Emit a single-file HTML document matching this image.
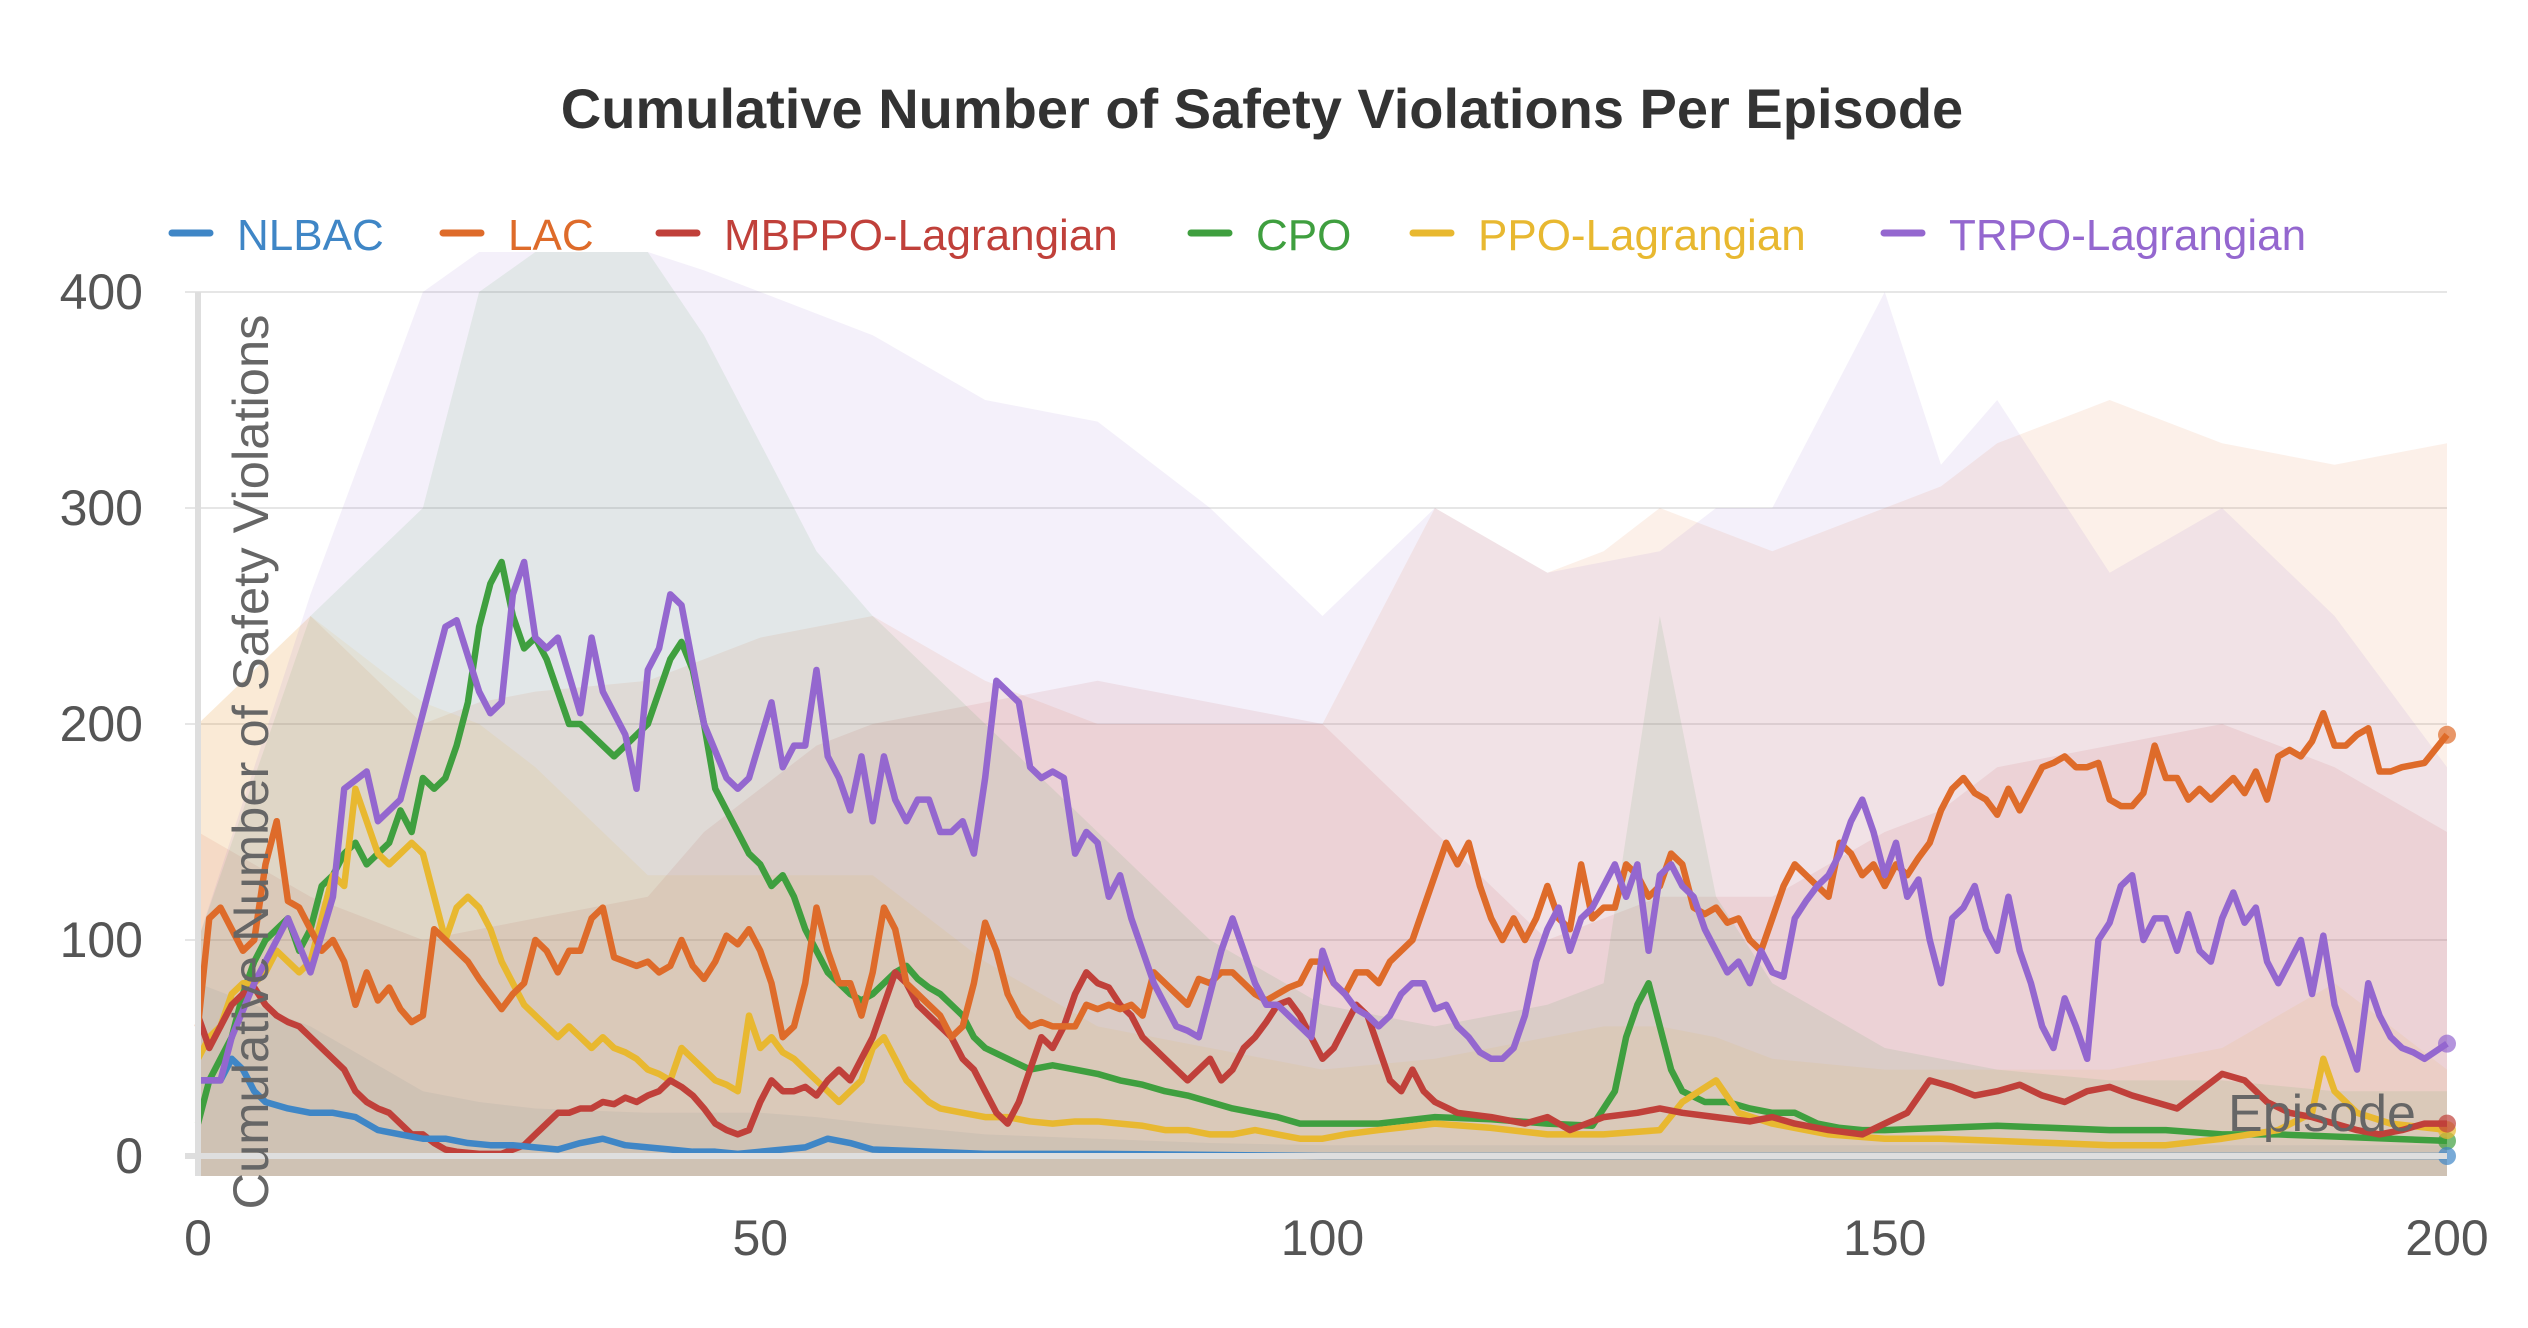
<!DOCTYPE html>
<html><head><meta charset="utf-8">
<style>
html,body{margin:0;padding:0;background:#fff;}
svg{display:block;font-family:"Liberation Sans","DejaVu Sans",sans-serif;}
</style></head>
<body>
<svg id="chart" width="2528" height="1328" viewBox="0 0 2528 1328">
<text x="1262" y="128" text-anchor="middle" font-size="56" font-weight="bold" fill="#333">Cumulative Number of Safety Violations Per Episode</text>
<g id="grid"></g>
<g id="bands"></g>
<g id="lines"></g>
<g id="axes"></g>
<g id="legend"></g>
<text transform="translate(268,762) rotate(-90)" text-anchor="middle" font-size="50" fill="#666" textLength="895" lengthAdjust="spacingAndGlyphs">Cumulative Number of Safety Violations</text>
<text x="2322" y="1131" text-anchor="middle" font-size="52" fill="#666">Episode</text>
</svg>
<script>
const seriesNames = ["NLBAC","LAC","MBPPO-Lagrangian","CPO","PPO-Lagrangian","TRPO-Lagrangian"];
const seriesColors = ["#3f86c6","#de6b2a","#c0403a","#3f9f3f","#e8b830","#9467cf"];
const yTicks = [0,100,200,300,400];
const xTicks = [0,50,100,150,200];

const nlbacX = [0,2,3,4,5,6,8,10,12,14,16,18,20,22,24,26,28,30,32,34,36,38,40,42,44,46,48,50,54,56,58,60,65,70,80,100,150,200];
const nlbacY = [35,35,45,40,30,25,22,20,20,18,12,10,8,8,6,5,5,4,3,6,8,5,4,3,2,2,1,2,4,8,6,3,2,1,1,0,0,0];

const lacX = [0,1,2,3,4,5,6,7,8,9,10,11,12,13,14,15,16,17,18,19,20,21,22,24,25,26,27,28,29,30,31,32,33,34,35,36,37,38,39,40,41,42,43,44,45,46,47,48,49,50,51,52,53,54,55,56,57,58,59,60,61,62,63,64,65,66,67,68,69,70,71,72,73,74,75,76,77,78,79,80,81,82,83,84,85,86,87,88,89,90,91,92,93,94,95,96,97,98,99,100,101,102,103,104,105,106,107,108,109,110,111,112,113,114,115,116,117,118,119,120,121,122,123,124,125,126,127,128,129,130,131,132,133,134,135,136,137,138,139,140,141,142,143,144,145,146,147,148,149,150,151,152,153,154,155,156,157,158,159,160,161,162,163,164,165,166,167,168,169,170,171,172,173,174,175,176,177,178,179,180,181,182,183,184,185,186,187,188,189,190,191,192,193,194,195,196,198,200];
const lacY = [60,110,115,105,95,100,135,155,118,115,105,95,100,90,70,85,72,78,68,62,65,105,100,90,82,75,68,75,80,100,95,85,95,95,110,115,92,90,88,90,85,88,100,88,82,90,102,98,105,95,80,55,60,80,115,95,80,80,65,85,115,105,80,75,70,65,55,60,80,108,95,75,65,60,62,60,60,60,70,68,70,68,70,65,85,80,75,70,82,80,85,85,80,75,72,75,78,80,90,90,80,75,85,85,80,90,95,100,115,130,145,135,145,125,110,100,110,100,110,125,110,105,135,110,115,115,135,130,120,125,140,135,115,112,115,108,110,100,95,110,125,135,130,125,120,145,140,130,135,125,135,130,138,145,160,170,175,168,165,158,170,160,170,180,182,185,180,180,182,165,162,162,168,190,175,175,165,170,165,170,175,168,178,165,185,188,185,192,205,190,190,195,198,178,178,180,182,195];

const mbX = [0,1,2,3,4,5,6,7,8,9,10,11,12,13,14,15,16,17,18,19,20,21,22,23,25,27,29,30,31,32,33,34,35,36,37,38,39,40,41,42,43,44,45,46,47,48,49,50,51,52,53,54,55,56,57,58,59,60,61,62,63,64,65,66,67,68,69,70,71,72,73,74,75,76,77,78,79,80,81,82,83,84,85,86,87,88,89,90,91,92,93,94,95,96,97,98,99,100,101,102,103,104,105,106,107,108,109,110,112,115,118,120,122,125,128,130,132,135,138,140,142,145,148,150,152,154,156,158,160,162,164,166,168,170,172,174,176,178,180,182,184,186,188,190,192,194,196,198,200];
const mbY = [65,50,60,70,75,78,70,65,62,60,55,50,45,40,30,25,22,20,15,10,10,6,3,2,1,1,5,10,15,20,20,22,22,25,24,27,25,28,30,35,32,28,22,15,12,10,12,25,35,30,30,32,28,35,40,35,45,55,70,85,80,70,65,60,55,45,40,30,20,15,25,40,55,50,60,75,85,80,78,70,65,55,50,45,40,35,40,45,35,40,50,55,62,70,72,65,55,45,50,60,70,65,50,35,30,40,30,25,20,18,15,18,12,18,20,22,20,18,16,18,15,12,10,15,20,35,32,28,30,33,28,25,30,32,28,25,22,30,38,35,25,20,18,15,12,10,12,15,15];

const cpoX = [0,1,2,3,4,5,6,7,8,9,10,11,12,13,14,15,16,17,18,19,20,21,22,23,24,25,26,27,28,29,30,31,32,33,34,35,36,37,38,39,40,41,42,43,44,45,46,47,48,49,50,51,52,53,54,55,56,57,58,59,60,61,62,63,64,65,66,67,68,69,70,72,74,76,78,80,82,84,86,88,90,92,94,96,98,100,105,110,115,120,124,126,127,128,129,130,131,132,134,136,138,140,142,144,146,148,150,155,160,165,170,175,180,185,190,195,200];
const cpoY = [15,35,45,55,75,90,100,105,110,95,105,125,130,140,145,135,140,145,160,150,175,170,175,190,210,245,265,275,250,235,240,230,215,200,200,195,190,185,190,195,200,215,230,238,225,200,170,160,150,140,135,125,130,120,105,95,85,80,75,72,75,80,85,88,82,78,75,70,65,55,50,45,40,42,40,38,35,33,30,28,25,22,20,18,15,15,15,18,17,15,14,30,55,70,80,60,40,30,25,25,22,20,20,15,13,12,12,13,14,13,12,12,10,10,9,8,7];

const ppoX = [0,1,2,3,4,5,6,7,8,9,10,11,12,13,14,15,16,17,18,19,20,21,22,23,24,25,26,27,28,29,30,31,32,33,34,35,36,37,38,39,40,41,42,43,44,45,46,47,48,49,50,51,52,53,54,55,56,57,58,59,60,61,62,63,64,65,66,68,70,72,74,76,78,80,82,84,86,88,90,92,94,96,98,100,102,105,110,115,120,125,130,132,135,137,140,145,150,155,160,165,170,175,180,185,188,189,190,192,195,200];
const ppoY = [45,55,60,75,80,80,85,95,90,85,90,110,130,125,170,155,140,135,140,145,140,120,100,115,120,115,105,90,80,70,65,60,55,60,55,50,55,50,48,45,40,38,35,50,45,40,35,33,30,65,50,55,48,45,40,35,30,25,30,35,50,55,45,35,30,25,22,20,18,18,16,15,16,16,15,14,12,12,10,10,12,10,8,8,10,12,15,13,10,10,12,25,35,20,15,10,8,8,7,6,5,5,8,12,20,45,30,20,15,12];

const trpoX = [0,2,3,5,7,8,10,12,13,15,16,18,20,22,23,25,26,27,28,29,30,31,32,34,35,36,38,39,40,41,42,43,45,47,48,49,51,52,53,54,55,56,57,58,59,60,61,62,63,64,65,66,67,68,69,70,71,72,73,74,75,76,77,78,79,80,81,82,83,84,85,86,87,88,89,90,91,92,93,94,95,96,97,98,99,100,101,102,103,104,105,106,107,108,109,110,111,112,113,114,115,116,117,118,119,120,121,122,123,124,125,126,127,128,129,130,131,132,133,134,135,136,137,138,139,140,141,142,143,144,145,146,147,148,149,150,151,152,153,154,155,156,157,158,159,160,161,162,163,164,165,166,167,168,169,170,171,172,173,174,175,176,177,178,179,180,181,182,183,184,185,186,187,188,189,190,191,192,193,194,195,196,197,198,200];
const trpoY = [35,35,55,80,100,110,85,120,170,178,155,165,205,245,248,215,205,210,260,275,240,235,240,205,240,215,195,170,225,235,260,255,200,175,170,175,210,180,190,190,225,185,175,160,185,155,185,165,155,165,165,150,150,155,140,175,220,215,210,180,175,178,175,140,150,145,120,130,110,95,80,70,60,58,55,75,95,110,95,80,70,70,65,60,55,95,80,75,68,65,60,65,75,80,80,68,70,60,55,48,45,45,50,65,90,105,115,95,110,115,125,135,120,135,95,130,135,125,120,105,95,85,90,80,95,85,83,110,118,125,130,140,155,165,150,130,145,120,128,100,80,110,115,125,105,95,120,95,80,60,50,73,60,45,100,108,125,130,100,110,110,95,112,95,90,110,122,108,115,90,80,90,100,75,102,70,55,40,80,65,55,50,48,45,52];

const bandX = [0,10,20,25,30,40,45,50,55,60,70,80,90,100,110,120,125,130,135,140,150,155,160,170,180,190,200];
const nlbacUpper = [80,60,30,25,22,20,20,20,18,15,10,8,6,5,5,5,5,5,5,5,5,5,5,5,5,5,5];
const lacUpper = [200,250,200,210,215,220,230,240,245,250,220,200,200,200,300,270,280,300,290,280,300,310,330,350,330,320,330];
const mbUpper = [150,120,100,105,110,120,150,170,190,200,210,220,210,200,150,100,110,120,120,120,150,160,180,190,200,180,150];
const cpoUpper = [100,250,300,400,420,420,380,330,280,250,200,150,100,70,60,70,80,250,120,80,50,45,40,35,35,30,30];
const ppoUpper = [200,250,210,200,180,130,130,130,130,130,90,60,50,40,45,55,60,60,55,45,40,40,40,40,50,80,40];
const trpoUpper = [100,260,400,420,420,420,410,400,390,380,350,340,300,250,300,270,275,280,300,300,400,320,350,270,300,250,180];

const seriesX = [nlbacX,lacX,mbX,cpoX,ppoX,trpoX];
const seriesY = [nlbacY,lacY,mbY,cpoY,ppoY,trpoY];
const uppers = [nlbacUpper,lacUpper,mbUpper,cpoUpper,ppoUpper,trpoUpper];

const X0=198, X1=2447, Y0=1156, Y1=292;
const xs = v => X0 + (v/200)*(X1-X0);
const ys = v => Y0 - (v/400)*(Y0-Y1);
const NS="http://www.w3.org/2000/svg";
function mk(tag, attrs, parent){const e=document.createElementNS(NS,tag);for(const k in attrs)e.setAttribute(k,attrs[k]);parent.appendChild(e);return e;}

const grid=document.getElementById('grid');
yTicks.forEach(t=>{
  const l=mk('line',{x1:185,x2:X1,y1:ys(t),y2:ys(t),stroke:'#e6e6e6','stroke-width':2},grid);
  
  
  const tx=mk('text',{x:143,y:ys(t)+17,'text-anchor':'end','font-size':50,fill:'#555'},grid);
  tx.textContent=t;
  
  
});
xTicks.forEach(t=>{
  const tx=mk('text',{x:xs(t),y:1255,'text-anchor':'middle','font-size':50,fill:'#555'},grid);
  tx.textContent=t;
  
  
});

const bands=document.getElementById('bands');
uppers.forEach((u,i)=>{
  let d='M'+xs(bandX[0])+','+(ys(0)+20);
  bandX.forEach((x,j)=>{d+=' L'+xs(x)+','+Math.max(Y1-40,ys(u[j]));});
  d+=' L'+xs(bandX[bandX.length-1])+','+(ys(0)+20)+' Z';
  const p=mk('path',{d:d,fill:seriesColors[i],'fill-opacity':0.1},bands);
  
  
});

const axes=document.getElementById('axes');
const xa=mk('line',{x1:185,x2:X1,y1:Y0,y2:Y0,stroke:'#dedede','stroke-width':6},axes);


const ya=mk('line',{x1:X0,x2:X0,y1:Y1,y2:Y0+20,stroke:'#dedede','stroke-width':6},axes);



const lines=document.getElementById('lines');
[3,4,2,1,0,5].forEach(i=>{
  const pts=seriesX[i].map((x,j)=>xs(x)+','+ys(seriesY[i][j])).join(' ');
  const pl=mk('polyline',{points:pts,fill:'none',stroke:seriesColors[i],'stroke-width':6.5,'stroke-linejoin':'round'},lines);
  
  
  const lx=seriesX[i][seriesX[i].length-1], ly=seriesY[i][seriesY[i].length-1];
  const c=mk('circle',{cx:xs(lx),cy:ys(ly),r:9,fill:seriesColors[i],'fill-opacity':0.7},lines);
  
  
});

const legend=document.getElementById('legend');
const legLineX=[174,445,661,1193,1415,1886];
seriesNames.forEach((n,i)=>{
  const g=mk('g',{},legend);
  
  
  mk('line',{x1:legLineX[i]-2,x2:legLineX[i]+36,y1:233,y2:233,stroke:seriesColors[i],'stroke-width':7,'stroke-linecap':'round'},g);
  const t=mk('text',{x:legLineX[i]+63,y:250,'font-size':44,fill:seriesColors[i]},g);
  t.textContent=n;
});
</script>
</body></html>
